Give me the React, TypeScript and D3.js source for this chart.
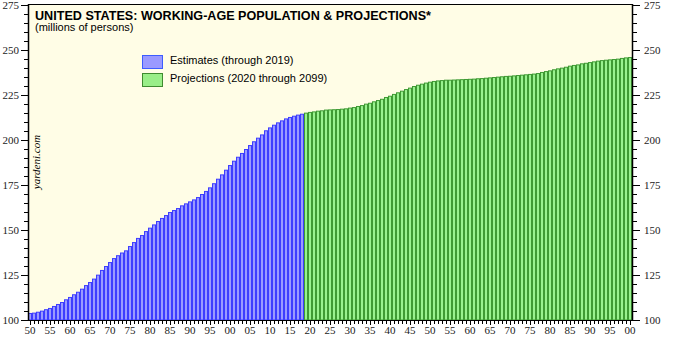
import React from "react";
import * as d3 from "d3";

const estimateYears = d3.range(1950, 2019);
const estimates = [
  103.9, 104.1, 104.6, 105.2, 106.0, 106.7, 107.8, 108.9, 110.0, 111.5,
  112.8, 114.3, 115.7, 117.4, 119.4, 121.1, 123.0, 125.2, 127.8, 130.0,
  132.2, 134.4, 136.0, 137.5, 138.7, 141.1, 143.3, 145.6, 147.2, 149.4,
  151.3, 153.1, 155.0, 156.7, 158.3, 160.0, 161.1, 162.2, 163.7, 164.8,
  165.9, 167.0, 168.3, 170.0, 171.7, 173.7, 176.0, 178.5, 180.9, 183.5,
  186.1, 188.5, 190.7, 192.8, 195.0, 197.2, 199.3, 201.3, 203.1, 205.4,
  207.0, 208.5, 209.8, 210.9, 212.0, 212.8, 213.5, 214.1, 214.6,
];
const projectionYears = d3.range(2019, 2101);
const projections = [
  215.2, 215.6, 215.9, 216.3, 216.5, 216.9, 217.0, 217.1, 217.2, 217.4, 217.6,
  218.0, 218.3, 218.9, 219.4, 220.2, 220.7, 221.5, 222.2, 222.9, 223.9,
  224.6, 225.6, 226.5, 227.4, 228.3, 229.1, 230.0, 230.7, 231.3, 231.9,
  232.4, 232.8, 233.1, 233.3, 233.5, 233.5, 233.6, 233.7, 233.8, 233.9,
  234.0, 234.1, 234.3, 234.4, 234.6, 234.8, 235.0, 235.2, 235.4, 235.6,
  235.7, 235.9, 236.1, 236.3, 236.5, 236.7, 236.9, 237.2, 237.8, 238.3,
  238.7, 239.3, 239.8, 240.2, 240.7, 241.3, 241.7, 242.0, 242.6, 242.9,
  243.3, 243.7, 244.1, 244.4, 244.6, 244.8, 245.0, 245.2, 245.6, 245.9, 246.1,
];
const yTicks = [100, 125, 150, 175, 200, 225, 250, 275];
const allYears = d3.range(1950, 2101);

const W = 675, H = 342;
const L = 28, R = 632, T = 4, B = 320;

export default function App() {
  const x = d3.scaleBand<number>().domain(allYears).range([L, R]).padding(0);
  const y = d3.scaleLinear().domain([100, 275]).range([B, 5]);
  const minorY = d3.range(100, 276, 5);
  const serif = "'Liberation Serif', 'Times New Roman', serif";
  const sans = "'Liberation Sans', Arial, sans-serif";

  const bar = (yr: number, v: number, fill: string, stroke: string) => (
    <rect
      key={yr}
      x={(x(yr) as number) + 0.5}
      y={y(v) + 0.5}
      width={x.bandwidth() - 1}
      height={B - y(v) - 0.5}
      fill={fill}
      stroke={stroke}
      strokeWidth={1}
    />
  );

  return (
    <svg width={W} height={H} style={{ position: "absolute", left: 0, top: 0, background: "#fff" }}>
      <rect x={L} y={T} width={R - L} height={B - T} fill="#fffde6" />
      {estimates.map((v, i) => bar(estimateYears[i], v, "#9a9aff", "#3d3dff"))}
      {projections.map((v, i) => bar(projectionYears[i], v, "#99f28f", "#3f9a34"))}

      {/* frame */}
      <line x1={L} x2={R} y1={T + 0.5} y2={T + 0.5} stroke="#000" />
      <line x1={L + 0.5} x2={L + 0.5} y1={T} y2={B} stroke="#000" strokeWidth={1.5} />
      <line x1={R + 0.5} x2={R + 0.5} y1={T} y2={B} stroke="#000" strokeWidth={1.5} />
      <line x1={L} x2={R + 1} y1={B + 0.5} y2={B + 0.5} stroke="#000" />

      {/* y ticks */}
      {minorY.map((v) => {
        const major = v % 25 === 0;
        const len = major ? 7 : 4;
        const yy = Math.round(y(v)) + 0.5;
        return (
          <g key={v}>
            <line x1={L - len} x2={L} y1={yy} y2={yy} stroke="#000" />
            <line x1={R + 1} x2={R + 1 + len} y1={yy} y2={yy} stroke="#000" />
          </g>
        );
      })}
      {yTicks.map((v) => (
        <g key={"l" + v} fontFamily={serif} fontSize={11} fill="#222">
          <text x={19} y={y(v) + 4} textAnchor="end">{v}</text>
          <text x={644} y={y(v) + 4} textAnchor="start">{v}</text>
        </g>
      ))}

      {/* x ticks */}
      {allYears.map((yr) => {
        const cx = Math.round((x(yr) as number) + x.bandwidth() / 2) + 0.5;
        const major = yr % 5 === 0;
        return <line key={yr} x1={cx} x2={cx} y1={B} y2={B + (major ? 5 : 4)} stroke="#000" />;
      })}
      {allYears.filter((yr) => yr % 5 === 0).map((yr) => (
        <text
          key={"t" + yr}
          x={(x(yr) as number) + x.bandwidth() / 2}
          y={334}
          textAnchor="middle"
          fontFamily={serif}
          fontSize={11}
          fill="#222"
        >
          {String(yr % 100).padStart(2, "0")}
        </text>
      ))}

      {/* titles */}
      <text x={35} y={19.5} fontFamily={sans} fontWeight="bold" fontSize={12.6} fill="#000">
        UNITED STATES: WORKING-AGE POPULATION &amp; PROJECTIONS*
      </text>
      <text x={35} y={31} fontFamily={sans} fontSize={11} fill="#000">
        (millions of persons)
      </text>

      {/* legend */}
      <rect x={142.5} y={55.5} width={20} height={13} fill="#9a9aff" stroke="#3d5dff" />
      <text x={170} y={64} fontFamily={sans} fontSize={11} fill="#000">Estimates (through 2019)</text>
      <rect x={142.5} y={73.5} width={20} height={13} fill="#99ee88" stroke="#3f8a2f" />
      <text x={170} y={82} fontFamily={sans} fontSize={11} fill="#000">Projections (2020 through 2099)</text>

      <text
        transform="translate(40,162) rotate(-90)"
        textAnchor="middle"
        fontFamily={serif}
        fontStyle="italic"
        fontSize={11}
        fill="#000"
      >
        yardeni.com
      </text>
    </svg>
  );
}
